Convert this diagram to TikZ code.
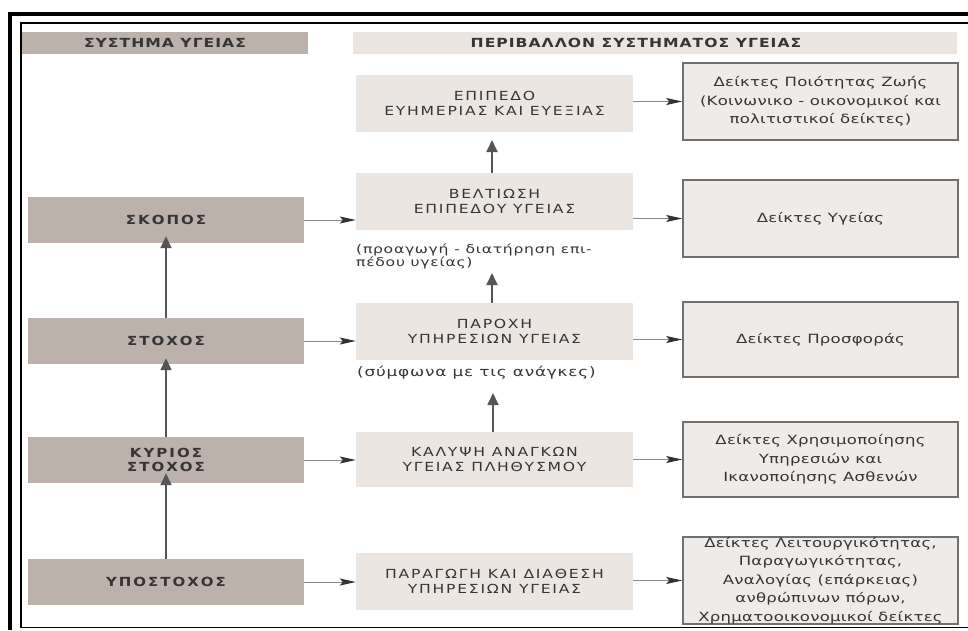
\documentclass[tikz,border=0pt]{standalone}
\usepackage{fontspec}
\setmainfont{DejaVu Sans}
\newfontfamily\leftfont{DejaVu Sans}[FakeStretch=1.2,LetterSpace=16]
\newfontfamily\midfont{DejaVu Sans}[FakeStretch=1.25,LetterSpace=14]
\newfontfamily\rightfont{DejaVu Sans}[FakeStretch=1.3,LetterSpace=2]
\newfontfamily\annfont{DejaVu Sans}[FakeStretch=1.3,LetterSpace=6]
\newfontfamily\headfont{DejaVu Sans}[FakeStretch=1.25,LetterSpace=8]
\usetikzlibrary{arrows.meta}
\definecolor{leftfill}{HTML}{BDB1AC}
\definecolor{midfill}{HTML}{ECE6E3}
\definecolor{rightfill}{HTML}{EFEBE8}
\definecolor{rborder}{HTML}{707070}
\definecolor{txt}{HTML}{353535}
\definecolor{arr}{HTML}{8A8A8A}
\definecolor{head}{HTML}{333333}
\definecolor{varrc}{HTML}{555555}
\tikzset{
 lbox/.style={fill=leftfill, minimum width=276pt, minimum height=46pt, inner sep=0pt, text=txt,
   font=\leftfont\bfseries\fontsize{12.5}{14.5}\selectfont, align=center},
 mbox/.style={fill=midfill, minimum width=277pt, minimum height=57pt, inner sep=0pt, text=txt,
   font=\midfont\fontsize{12.5}{15}\selectfont, align=center},
 rbox/.style={fill=rightfill, draw=rborder, line width=1.5pt, minimum width=275pt, minimum height=77pt,
   inner sep=0pt, text=txt, font=\rightfont\fontsize{12.7}{18.5}\selectfont, align=center},
 hbox/.style={minimum height=22pt, inner sep=0pt, text=txt, font=\headfont\bfseries\fontsize{12.5}{14}\selectfont},
 ann/.style={inner sep=0pt, text=txt, font=\annfont\fontsize{12}{12.5}\selectfont, align=left, anchor=west},
 harr/.style={draw=arr, line width=1pt, -{Stealth[length=16pt,width=7pt,inset=3pt,color=head]}},
 varr/.style={draw=varrc, line width=1.8pt, -{Triangle[length=12pt,width=11pt]}},
}
\begin{document}
\begin{tikzpicture}[x=1pt,y=-1pt]
\useasboundingbox (0,0) rectangle (968,630);
% frame
\draw[line width=4pt] (8,14) -- (968,14);
\draw[line width=4pt] (10,12) -- (10,630);
\draw[line width=1.5pt] (968,23) -- (21,23) -- (21,627.5) -- (968,627.5);
% headers
\node[hbox, fill=leftfill, minimum width=286pt] (h1) at (165,43) {ΣΥΣΤΗΜΑ ΥΓΕΙΑΣ};
\node[hbox, fill=midfill, minimum width=604pt] (h2) at (655,43) {};
\node[hbox] (h2t) at (636,43) {ΠΕΡΙΒΑΛΛΟΝ ΣΥΣΤΗΜΑΤΟΣ ΥΓΕΙΑΣ};
% left column
\node[lbox] (skopos) at (166,220) {ΣΚΟΠΟΣ};
\node[lbox] (stoxos) at (166,341) {ΣΤΟΧΟΣ};
\node[lbox] (kyrios) at (166,460) {ΚΥΡΙΟΣ\\ΣΤΟΧΟΣ};
\node[lbox] (ypo) at (166,582) {ΥΠΟΣΤΟΧΟΣ};
% middle column
\node[mbox] (epip) at (494.5,103.5) {ΕΠΙΠΕΔΟ\\ΕΥΗΜΕΡΙΑΣ ΚΑΙ ΕΥΕΞΙΑΣ};
\node[mbox] (belt) at (494.5,201.5) {ΒΕΛΤΙΩΣΗ\\ΕΠΙΠΕΔΟΥ ΥΓΕΙΑΣ};
\node[mbox] (parox) at (494.5,331.5) {ΠΑΡΟΧΗ\\ΥΠΗΡΕΣΙΩΝ ΥΓΕΙΑΣ};
\node[mbox, minimum height=55pt] (kal) at (494.5,459.5) {ΚΑΛΥΨΗ ΑΝΑΓΚΩΝ\\ΥΓΕΙΑΣ ΠΛΗΘΥΣΜΟΥ};
\node[mbox] (parag) at (494.5,581.5) {ΠΑΡΑΓΩΓΗ ΚΑΙ ΔΙΑΘΕΣΗ\\ΥΠΗΡΕΣΙΩΝ ΥΓΕΙΑΣ};
\node[ann] (a1) at (356,256.5) {(προαγωγή - διατήρηση επι-\\πέδου υγείας)};
\node[ann, font=\annfont\fontsize{13}{13.5}\selectfont] (a2) at (357,373) {(σύμφωνα με τις ανάγκες)};
% right column
\node[rbox] (d1) at (820.5,101.5) {Δείκτες Ποιότητας Ζωής\\(Κοινωνικο - οικονομικοί και\\πολιτιστικοί δείκτες)};
\node[rbox] (d2) at (820.5,218.5) {Δείκτες Υγείας};
\node[rbox, minimum height=75pt] (d3) at (820.5,339.5) {Δείκτες Προσφοράς};
\node[rbox, minimum height=75pt] (d4) at (820.5,459.5) {Δείκτες Χρησιμοποίησης\\Υπηρεσιών και\\Ικανοποίησης Ασθενών};
\node[rbox, minimum height=85pt] (d5) at (820.5,580.5) {Δείκτες Λειτουργικότητας,\\Παραγωγικότητας,\\Αναλογίας (επάρκειας)\\ανθρώπινων πόρων,\\Χρηματοοικονομικοί δείκτες};
% vertical arrows
\coordinate (t1) at (492,140);
\coordinate (t2) at (492,273);
\coordinate (t3) at (493,393);
\draw[varr] (stoxos.north) -- ([yshift=7pt]skopos.south);
\draw[varr] (kyrios.north) -- ([yshift=6pt]stoxos.south);
\draw[varr] (ypo.north) -- ([yshift=10pt]kyrios.south);
\draw[varr] (belt.north -| t1) -- (t1);
\draw[varr] (parox.north -| t2) -- (t2);
\draw[varr] (kal.north -| t3) -- (t3);
% horizontal arrows
\draw[harr] (skopos.east) -- (skopos.east -| belt.west);
\draw[harr] (stoxos.east) -- (stoxos.east -| parox.west);
\draw[harr] (kyrios.east) -- (kyrios.east -| kal.west);
\draw[harr] (ypo.east) -- (ypo.east -| parag.west);
\draw[harr] (d1.west -| epip.east) -- (d1.west);
\draw[harr] (d2.west -| belt.east) -- (d2.west);
\draw[harr] (d3.west -| parox.east) -- (d3.west);
\draw[harr] (d4.west -| kal.east) -- (d4.west);
\draw[harr] (d5.west -| parag.east) -- (d5.west);
\end{tikzpicture}
\end{document}
